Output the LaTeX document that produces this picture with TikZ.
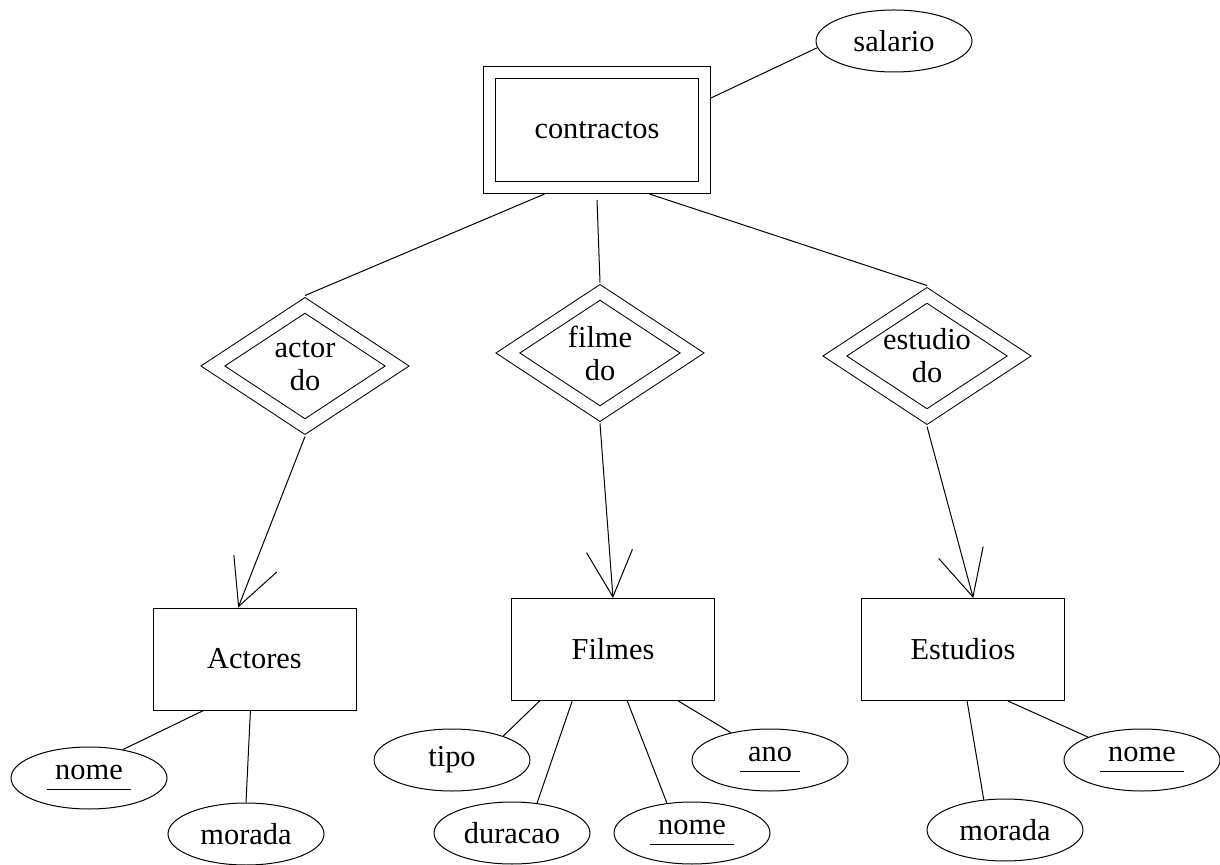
\documentclass[tikz,border=0pt]{standalone}
\usepackage{fontspec}
\setmainfont{Liberation Serif}
\usetikzlibrary{shapes.geometric,arrows.meta,calc}
\newcommand{\keyattr}[1]{\underline{\kern4pt\vphantom{p}#1\kern4pt}}

\begin{document}
\begin{tikzpicture}[x=0.5pt,y=-0.5pt]
  \tikzstyle{every node}+=[inner sep=0pt, font=\fontsize{15.2pt}{16.5pt}\selectfont]
  \tikzstyle{entity}=[draw, line width=0.5pt, minimum width=101.5pt, minimum height=51pt]
  \tikzstyle{weakentity}=[draw, line width=0.5pt, double, double distance=5.5pt, outer sep=3.25pt, minimum width=107.5pt, minimum height=57.5pt]
  \tikzstyle{weakrel}=[draw, diamond, aspect=1.5, line width=0.5pt, double, double distance=6pt, outer sep=3.5pt, minimum width=95pt, minimum height=63.5pt, align=center]
  \tikzstyle{attr}=[draw, ellipse, line width=0.5pt, minimum width=78pt, minimum height=31pt]
  \tikzstyle{link}=[line width=0.5pt]
  \tikzstyle{tolink}=[line width=0.5pt, -{Straight Barb[length=23pt,width=23pt]}]
  \useasboundingbox (0,0) rectangle (1220,865);
  % weak entity and its attribute
  \node[weakentity] (contractos) at (597,130) {contractos};
  \node[attr] (salario) at (894,41) {salario};
  % relationships
  \node[weakrel] (actordo) at (305,366) {actor\\do};
  \node[weakrel] (filmedo) at (600,353) {filme\\do};
  \node[weakrel] (estudiodo) at (927,356) {estudio\\do};
  % entities
  \node[entity] (actores) at (254.5,659) {Actores};
  \node[entity] (filmes) at (613,649.5) {Filmes};
  \node[entity] (estudios) at (963,649.5) {Estudios};
  % attributes
  \node[attr] (nomeA) at (89,778) {\keyattr{nome}};
  \node[attr] (moradaA) at (246,834) {morada};
  \node[attr] (tipo) at (452,760) {tipo};
  \node[attr] (duracao) at (512,833) {duracao};
  \node[attr] (nomeF) at (692,833) {\keyattr{nome}};
  \node[attr] (ano) at (770,760) {\keyattr{ano}};
  \node[attr] (moradaE) at (1005,830) {morada};
  \node[attr] (nomeE) at (1142,760) {\keyattr{nome}};
  % links
  \draw[link] ($(contractos.north east)!0.25!(contractos.south east)$) -- (salario.185);
  \draw[link] ($(contractos.south west)!0.27!(contractos.south east)$) -- (actordo.north);
  \draw[link] ($(contractos.south)+(0,6)$) -- (filmedo.north);
  \draw[link] ($(contractos.south west)!0.73!(contractos.south east)$) -- (estudiodo.north);
  \draw[tolink] (actordo.south) -- ($(actores.north west)!0.42!(actores.north east)$);
  \draw[tolink] (filmedo.south) -- (filmes.north);
  \draw[tolink] (estudiodo.south) -- ($(estudios.north west)!0.55!(estudios.north east)$);
  \draw[link] ($(actores.south west)!0.25!(actores.south east)$) -- (nomeA.40);
  \draw[link] ($(actores.south west)!0.48!(actores.south east)$) -- (moradaA.north);
  \draw[link] ($(filmes.south west)!0.14!(filmes.south east)$) -- (tipo.25);
  \draw[link] ($(filmes.south west)!0.30!(filmes.south east)$) -- (duracao.50);
  \draw[link] ($(filmes.south west)!0.57!(filmes.south east)$) -- (nomeF.130);
  \draw[link] ($(filmes.south west)!0.82!(filmes.south east)$) -- (ano.145);
  \draw[link] ($(estudios.south west)!0.52!(estudios.south east)$) -- (moradaE.125);
  \draw[link] ($(estudios.south west)!0.72!(estudios.south east)$) -- (nomeE.157);
\end{tikzpicture}
\end{document}
